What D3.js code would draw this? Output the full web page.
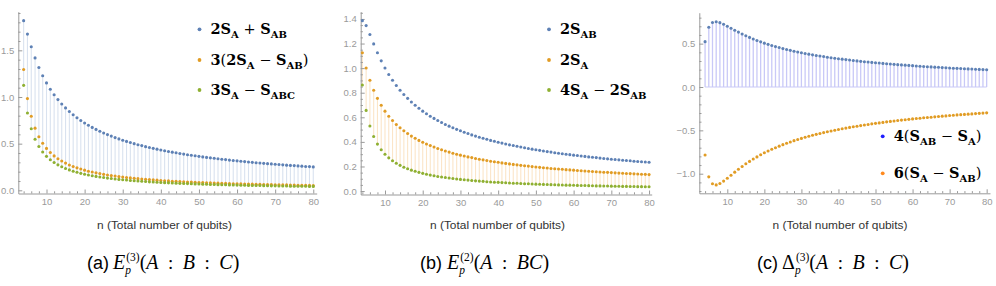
<!DOCTYPE html>
<html><head><meta charset="utf-8">
<script src="https://cdn.jsdelivr.net/npm/d3@7"></script>
<style>
html,body{margin:0;padding:0;background:#fff;}
svg{display:block;}
</style></head>
<body><svg id="c" width="996" height="286"></svg>
<script>
// ---------- DATA ----------
const qubits = [4,5,6,7,8,9,10,
 11,12,13,14,15,16,17,18,19,20,
 21,22,23,24,25,26,27,28,29,30,
 31,32,33,34,35,36,37,38,39,40,
 41,42,43,44,45,46,47,48,49,50,
 51,52,53,54,55,56,57,58,59,60,
 61,62,63,64,65,66,67,68,69,70,
 71,72,73,74,75,76,77,78,79,80];
const xTickLabels = [10,20,30,40,50,60,70,80];

// (a) E_p^(3)(A:B:C)
const a_2SA_SAB = [1.818,1.674,1.538,1.419,1.316,1.227,1.151,
 1.083,1.024,0.972,0.925,0.883,0.844,0.810,0.778,0.749,0.722,
 0.697,0.674,0.653,0.633,0.615,0.597,0.581,0.565,0.551,0.537,
 0.524,0.512,0.500,0.489,0.479,0.468,0.459,0.450,0.441,0.432,
 0.424,0.416,0.409,0.402,0.395,0.388,0.382,0.376,0.370,0.364,
 0.358,0.353,0.348,0.343,0.338,0.333,0.329,0.324,0.320,0.316,
 0.312,0.308,0.304,0.300,0.296,0.293,0.289,0.286,0.283,0.279,
 0.276,0.273,0.270,0.267,0.265,0.262,0.259,0.256,0.254,0.251];
const a_3_2SA_SAB = [1.295,0.983,0.794,0.666,0.574,0.504,0.449,
 0.405,0.369,0.339,0.314,0.292,0.272,0.256,0.241,0.228,0.216,
 0.205,0.196,0.187,0.179,0.171,0.165,0.158,0.153,0.147,0.142,
 0.137,0.133,0.129,0.125,0.121,0.118,0.115,0.112,0.109,0.106,
 0.103,0.101,0.098,0.096,0.094,0.092,0.090,0.088,0.086,0.084,
 0.083,0.081,0.080,0.078,0.077,0.075,0.074,0.073,0.071,0.070,
 0.069,0.068,0.067,0.066,0.065,0.064,0.063,0.062,0.061,0.060,
 0.059,0.058,0.058,0.057,0.056,0.055,0.055,0.054,0.053,0.052];
const a_3SA_SABC = [1.125,0.828,0.659,0.547,0.469,0.410,0.364,
 0.328,0.298,0.273,0.252,0.234,0.219,0.205,0.193,0.182,0.173,
 0.164,0.156,0.149,0.143,0.137,0.131,0.126,0.122,0.117,0.113,
 0.110,0.106,0.103,0.100,0.097,0.094,0.091,0.089,0.087,0.084,
 0.082,0.080,0.078,0.077,0.075,0.073,0.072,0.070,0.069,0.067,
 0.066,0.065,0.063,0.062,0.061,0.060,0.059,0.058,0.057,0.056,
 0.055,0.054,0.053,0.052,0.051,0.051,0.050,0.049,0.048,0.048,
 0.047,0.046,0.046,0.045,0.044,0.044,0.043,0.043,0.042,0.042];
const a_yTicks = [0,0.5,1.0,1.5];

// (b) E_p^(2)(A:BC)
const b_2SAB = [1.386,1.346,1.273,1.197,1.125,1.059,1.001,
 0.948,0.901,0.859,0.820,0.785,0.754,0.724,0.698,0.673,0.650,
 0.629,0.609,0.591,0.574,0.558,0.542,0.528,0.515,0.502,0.490,
 0.478,0.468,0.457,0.447,0.438,0.429,0.421,0.412,0.405,0.397,
 0.390,0.383,0.376,0.370,0.364,0.358,0.352,0.346,0.341,0.336,
 0.331,0.326,0.321,0.317,0.312,0.308,0.304,0.300,0.296,0.292,
 0.289,0.285,0.282,0.278,0.275,0.272,0.268,0.265,0.262,0.259,
 0.257,0.254,0.251,0.249,0.246,0.243,0.241,0.238,0.236,0.234];
const b_2SA = [1.125,1.001,0.901,0.820,0.754,0.698,0.650,
 0.609,0.574,0.542,0.515,0.490,0.468,0.447,0.429,0.412,0.397,
 0.383,0.370,0.358,0.346,0.336,0.326,0.317,0.308,0.300,0.292,
 0.285,0.278,0.272,0.265,0.259,0.254,0.249,0.243,0.238,0.234,
 0.229,0.225,0.221,0.217,0.213,0.209,0.206,0.203,0.199,0.196,
 0.193,0.190,0.187,0.184,0.182,0.179,0.177,0.174,0.172,0.170,
 0.167,0.165,0.163,0.161,0.159,0.157,0.155,0.153,0.152,0.150,
 0.148,0.146,0.145,0.143,0.142,0.140,0.139,0.137,0.136,0.134];
const b_4SA_2SAB = [0.863,0.656,0.529,0.444,0.382,0.336,0.300,
 0.270,0.246,0.226,0.209,0.194,0.182,0.170,0.161,0.152,0.144,
 0.137,0.130,0.125,0.119,0.114,0.110,0.106,0.102,0.098,0.095,
 0.092,0.089,0.086,0.083,0.081,0.079,0.076,0.074,0.072,0.071,
 0.069,0.067,0.066,0.064,0.063,0.061,0.060,0.059,0.057,0.056,
 0.055,0.054,0.053,0.052,0.051,0.050,0.049,0.048,0.048,0.047,
 0.046,0.045,0.045,0.044,0.043,0.042,0.042,0.041,0.041,0.040,
 0.039,0.039,0.038,0.038,0.037,0.037,0.036,0.036,0.035,0.035];
const b_yTicks = [0,0.2,0.4,0.6,0.8,1.0,1.2,1.4];

// (c) Delta_p^(3)(A:B:C)
const c_4_SAB_SA = [0.523,0.690,0.744,0.753,0.742,0.723,0.701,
 0.678,0.655,0.633,0.611,0.591,0.572,0.554,0.537,0.521,0.506,
 0.492,0.479,0.466,0.455,0.443,0.433,0.423,0.413,0.404,0.395,
 0.387,0.379,0.371,0.364,0.357,0.351,0.344,0.338,0.332,0.326,
 0.321,0.316,0.311,0.306,0.301,0.296,0.292,0.288,0.284,0.280,
 0.276,0.272,0.268,0.265,0.261,0.258,0.255,0.252,0.249,0.246,
 0.243,0.240,0.237,0.234,0.232,0.229,0.227,0.224,0.222,0.219,
 0.217,0.215,0.213,0.211,0.209,0.207,0.205,0.203,0.201,0.199];
const c_6_SA_SAB = [-0.785,-1.036,-1.116,-1.129,-1.113,-1.085,-1.052,
 -1.017,-0.982,-0.949,-0.917,-0.886,-0.858,-0.831,-0.806,-0.782,-0.759,
 -0.738,-0.718,-0.700,-0.682,-0.665,-0.649,-0.634,-0.619,-0.606,-0.593,
 -0.580,-0.568,-0.557,-0.546,-0.536,-0.526,-0.516,-0.507,-0.498,-0.490,
 -0.481,-0.474,-0.466,-0.459,-0.452,-0.445,-0.438,-0.432,-0.425,-0.419,
 -0.414,-0.408,-0.402,-0.397,-0.392,-0.387,-0.382,-0.377,-0.373,-0.368,
 -0.364,-0.360,-0.355,-0.351,-0.348,-0.344,-0.340,-0.336,-0.333,-0.329,
 -0.326,-0.322,-0.319,-0.316,-0.313,-0.310,-0.307,-0.304,-0.301,-0.298];
const c_yTicks = [-1.0,-0.5,0.0,0.5];

const xTitle = "n (Total number of qubits)";

// ---------- DRAWING ----------
const svg = d3.select("#c");
const BLUE = "#5e81b5", ORANGE = "#e19c24", GREEN = "#8fb032";
const SERIF = "'DejaVu Serif', serif";
const MATH = "'Liberation Serif', 'Times New Roman', serif";
const SANS = "'Liberation Sans', Arial, sans-serif";

function placePieces(g, pieces, x0, y0) {
  let cx = x0, hold = 0;
  pieces.forEach(p => {
    const t = g.append("text")
      .attr("x", cx + (p.dx || 0)).attr("y", y0 + (p.dy || 0))
      .attr("font-family", p.f || SERIF)
      .attr("font-size", p.s || 14)
      .attr("font-weight", p.w || "normal")
      .attr("font-style", p.i ? "italic" : "normal")
      .attr("fill", p.c || "#000")
      .style("white-space", "pre")
      .text(p.t);
    const w = t.node().getComputedTextLength() + (p.dx || 0);
    if (p.hold) { hold = w; }
    else { cx += Math.max(w, hold); hold = 0; }
  });
  return cx;
}

function legendPieces(spec) {
  return spec.map(([t, k]) => {
    if (k === 's') return {t, w: "bold", s: 10, dy: 3.5, f: SERIF};
    if (k === 'r') return {t, w: "normal", s: 14.5, f: SERIF};
    return {t, w: "bold", s: 14.5, f: SERIF};
  });
}

function panel(cfg) {
  const g = svg.append("g");
  const x = d3.scaleLinear().domain(cfg.xd).range(cfg.xr);
  const y = d3.scaleLinear().domain(cfg.yd).range(cfg.yr);

  if (cfg.stem) {
    const st = cfg.stem;
    if (st.base !== undefined) {
      g.append("line")
        .attr("x1", x(qubits[0])).attr("x2", x(qubits[qubits.length-1]))
        .attr("y1", y(st.base)).attr("y2", y(st.base))
        .attr("stroke", st.color).attr("stroke-width", 1.2);
    }
    g.append("g").selectAll("line").data(qubits).join("line")
      .attr("x1", d => x(d)).attr("x2", d => x(d))
      .attr("y1", (d, i) => y(st.from[i]))
      .attr("y2", (d, i) => y(st.to ? st.to[i] : st.base))
      .attr("stroke", st.color).attr("stroke-width", st.width || 1.1);
  }

  const minorX = d3.range(4, 81, 2).filter(v => v % 10 !== 0);
  const axX = g.append("g").attr("transform", `translate(0,${cfg.yr[0]})`);
  axX.call(d3.axisBottom(x).tickValues(minorX).tickSize(-2.2).tickSizeOuter(0).tickFormat(""));
  const axX2 = g.append("g").attr("transform", `translate(0,${cfg.yr[0]})`);
  axX2.call(d3.axisBottom(x).tickValues(xTickLabels).tickSize(-4).tickSizeOuter(0).tickPadding(5).tickFormat(d3.format("d")));
  axX2.select(".domain").remove();

  const axY = g.append("g").attr("transform", `translate(${cfg.xr[0]},0)`);
  axY.call(d3.axisLeft(y).tickValues(cfg.yMinor).tickSize(-2.2).tickSizeOuter(0).tickFormat(""));
  const axY2 = g.append("g").attr("transform", `translate(${cfg.xr[0]},0)`);
  axY2.call(d3.axisLeft(y).tickValues(cfg.yTicks).tickSize(-4).tickSizeOuter(0).tickPadding(4).tickFormat(d3.format(".1f")));
  axY2.select(".domain").remove();

  g.selectAll(".domain").attr("stroke", "#9a9a9a").attr("stroke-width", 1);
  g.selectAll(".tick line").attr("stroke", "#9a9a9a").attr("stroke-width", 1);
  g.selectAll(".tick text").attr("fill", "#9a9a9a")
    .attr("font-family", SANS).attr("font-size", 9.5)
    .text(function(){ return d3.select(this).text().replace("-", "\u2212"); });

  cfg.series.forEach(s => {
    g.append("g").selectAll("circle").data(qubits).join("circle")
      .attr("cx", d => x(d)).attr("cy", (d, i) => y(s.values[i]))
      .attr("r", 1.55).attr("fill", s.color);
  });

  cfg.legend.rows.forEach((row, k) => {
    const cy = cfg.legend.y[k];
    g.append("circle").attr("cx", cfg.legend.x).attr("cy", cy).attr("r", 1.9)
      .attr("fill", row.color);
    placePieces(g, legendPieces(row.spec), cfg.legend.x + 11, cy + 5);
  });

  g.append("text").attr("x", cfg.titleX).attr("y", 229)
    .attr("text-anchor", "middle").attr("font-family", SANS)
    .attr("font-size", 11).attr("fill", "#333")
    .attr("textLength", 135).attr("lengthAdjust", "spacingAndGlyphs")
    .text(xTitle);

  const cap = g.append("g");
  placePieces(cap, [{t: cfg.caption.tag, f: SANS, s: 18}], cfg.caption.x, 269);
  placePieces(cap, cfg.caption.math, cfg.caption.mx, 269);
}

function mathPieces(head, sup, argParts) {
  const P = [
    {t: head, f: MATH, s: 20, i: head === "E"},
    {t: "p", f: MATH, s: 11.5, i: true, dy: 5, hold: true},
    {t: sup, f: MATH, s: 11.5, dy: -8.5, dx: 1},
    {t: "(", f: MATH, s: 20}
  ];
  argParts.forEach(a => {
    if (a === ":") P.push({t: "\u2002:\u2002", f: MATH, s: 19});
    else P.push({t: a, f: MATH, s: 20, i: true});
  });
  P.push({t: ")", f: MATH, s: 20});
  return P;
}

panel({
  xd: [2.6, 80.9], xr: [18.3, 316.7],
  yd: [-0.034, 1.914], yr: [193.5, 11.7],
  yTicks: a_yTicks, yMinor: d3.range(0, 19.01, 1).map(v => v / 10).filter(v => Math.round(v * 10) % 5 !== 0),
  stem: {from: a_2SA_SAB, to: a_3SA_SABC, color: "#d9e2ef", width: 1.1},
  series: [
    {values: a_2SA_SAB, color: BLUE},
    {values: a_3_2SA_SAB, color: ORANGE},
    {values: a_3SA_SABC, color: GREEN}
  ],
  legend: {x: 199.5, y: [29.3, 60, 90], rows: [
    {color: BLUE, spec: [["2S","b"],["A","s"],[" + ","r"],["S","b"],["AB","s"]]},
    {color: ORANGE, spec: [["3","b"],["(","r"],["2S","b"],["A","s"],[" \u2212 ","r"],["S","b"],["AB","s"],[")","r"]]},
    {color: GREEN, spec: [["3S","b"],["A","s"],[" \u2212 ","r"],["S","b"],["ABC","s"]]}
  ]},
  titleX: 164.5,
  caption: {tag: "(a)", x: 87, mx: 113, math: mathPieces("E", "(3)", ["A", ":", "B", ":", "C"])}
});

panel({
  xd: [3.56, 80.7], xr: [360.7, 651.7],
  yd: [-0.028, 1.459], yr: [194.5, 11.7],
  yTicks: b_yTicks, yMinor: d3.range(0, 29.01, 1).map(v => v / 20).filter(v => Math.round(v * 20) % 4 !== 0),
  stem: {from: b_2SA, to: b_4SA_2SAB, color: "#fbe5c8", width: 1.1},
  series: [
    {values: b_2SAB, color: BLUE},
    {values: b_2SA, color: ORANGE},
    {values: b_4SA_2SAB, color: GREEN}
  ],
  legend: {x: 549, y: [29.3, 60, 90], rows: [
    {color: BLUE, spec: [["2S","b"],["AB","s"]]},
    {color: ORANGE, spec: [["2S","b"],["A","s"]]},
    {color: GREEN, spec: [["4S","b"],["A","s"],[" \u2212 ","r"],["2S","b"],["AB","s"]]}
  ]},
  titleX: 497.5,
  caption: {tag: "(b)", x: 420, mx: 447, math: mathPieces("E", "(2)", ["A", ":", "BC"])}
});

panel({
  xd: [2.44, 80.9], xr: [699.3, 990],
  yd: [-1.226, 0.857], yr: [193.3, 12.7],
  yTicks: c_yTicks, yMinor: d3.range(-12, 8.01, 1).map(v => v / 10).filter(v => Math.round(v * 10) % 5 !== 0),
  stem: {from: c_4_SAB_SA, base: 0, color: "#c9c9f7", width: 1.3},
  series: [
    {values: c_4_SAB_SA, color: BLUE},
    {values: c_6_SA_SAB, color: ORANGE}
  ],
  legend: {x: 882.7, y: [136.3, 173.3], rows: [
    {color: "#1f1fff", spec: [["4","b"],["(","r"],["S","b"],["AB","s"],[" \u2212 ","r"],["S","b"],["A","s"],[")","r"]]},
    {color: "#ff8a1f", spec: [["6","b"],["(","r"],["S","b"],["A","s"],[" \u2212 ","r"],["S","b"],["AB","s"],[")","r"]]}
  ]},
  titleX: 840,
  caption: {tag: "(c)", x: 757, mx: 782, math: mathPieces("\u0394", "(3)", ["A", ":", "B", ":", "C"])}
});
</script>
</body></html>
